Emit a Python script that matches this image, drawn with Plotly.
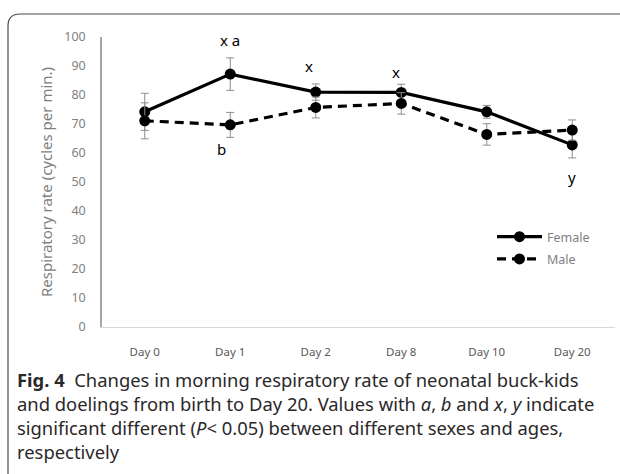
import plotly.graph_objects as go

days = ["Day 0", "Day 1", "Day 2", "Day 8", "Day 10", "Day 20"]
female = [74.2, 87.2, 81.0, 80.9, 74.2, 62.8]
female_err = [6.4, 5.6, 2.8, 2.8, 2.2, 4.5]
male = [71.1, 69.7, 75.7, 77.1, 66.4, 67.9]
male_err = [6.2, 4.3, 3.6, 3.7, 3.7, 3.5]

# significance letters: (category, value, text, x shift px)
letters = [("Day 1", 99, "x a", 0), ("Day 2", 90, "x", -7), ("Day 8", 88, "x", -5),
           ("Day 1", 61.4, "b", -9), ("Day 20", 51.8, "y", 0)]

W, H = 620, 474
L, R, T, B = 102, 5, 37, 147
pw, ph = W - L - R, H - T - B

def px(x):
    return (x - L) / pw

def py(y):
    return (H - B - y) / ph

fig = go.Figure()
err_col = "#8c8c8c"
fig.add_trace(go.Scatter(
    x=days, y=female, name="Female", mode="lines+markers", legendgroup="f",
    line=dict(color="black", width=3.2),
    marker=dict(color="black", size=11),
    error_y=dict(type="data", array=female_err, color=err_col, thickness=1, width=4),
))
fig.add_trace(go.Scatter(
    x=days, y=male, name="Male", mode="lines+markers", legendgroup="m",
    line=dict(color="black", width=3.2, dash="9px,6px"),
    marker=dict(color="black", size=11),
    error_y=dict(type="data", array=male_err, color=err_col, thickness=1, width=4),
))

for cat, val, txt, dx in letters:
    fig.add_annotation(x=cat, y=val, text=txt, showarrow=False, xshift=dx,
                       font=dict(family="Noto Sans", size=15, color="black"))

caption = ("<b>Fig. 4</b>  Changes in morning respiratory rate of neonatal buck-kids<br>"
           "and doelings from birth to Day 20. Values with <i>a</i>, <i>b</i> and <i>x</i>, <i>y</i> indicate<br>"
           "significant different (<i>P</i>< 0.05) between different sexes and ages,<br>"
           "respectively")
fig.add_annotation(xref="paper", yref="paper", x=px(15), y=py(365), xanchor="left", yanchor="top",
                   text=caption, showarrow=False, align="left",
                   font=dict(family="Noto Sans", size=18.4, color="#2b2829"))

# outer rounded frame
x0, y0 = px(8), py(14)
xr, yb = px(640), py(490)
rx, ry = 12 / pw, 12 / ph
path = (f"M {x0},{yb} L {x0},{y0 - ry} Q {x0},{y0} {x0 + rx},{y0} L {xr},{y0}")
fig.add_shape(type="path", xref="paper", yref="paper", path=path,
              line=dict(color="#4d4d4d", width=1.2))

fig.update_layout(
    width=W, height=H, margin=dict(l=L, r=R, t=T, b=B),
    paper_bgcolor="white", plot_bgcolor="white",
    font=dict(family="Noto Sans", color="#7f7f7f"),
    showlegend=True,
    legend=dict(x=px(492), y=py(222), xanchor="left", yanchor="top",
                bgcolor="rgba(0,0,0,0)", font=dict(size=12.5, color="#7f7f7f"),
                tracegroupgap=3, itemwidth=45),
    xaxis=dict(range=[-0.5, 5.5], showgrid=False, zeroline=False, showline=True,
               linecolor="#d9d9d9", linewidth=1, ticks="",
               tickfont=dict(size=11.5, color="#595959"), ticklabelstandoff=14),
    yaxis=dict(range=[0, 100], dtick=10, showgrid=False, zeroline=False, showline=True,
               linecolor="#a6a6a6", linewidth=1.5, ticks="",
               tickfont=dict(size=12.5, color="#7f7f7f"), ticklabelstandoff=12,
               title=dict(text="Respiratory rate (cycles per min.)", standoff=8,
                          font=dict(size=15, color="#7f7f7f"))),
)

fig.write_html("out.html", config={"displayModeBar": False},
               post_script="document.body.style.margin='0px';")
